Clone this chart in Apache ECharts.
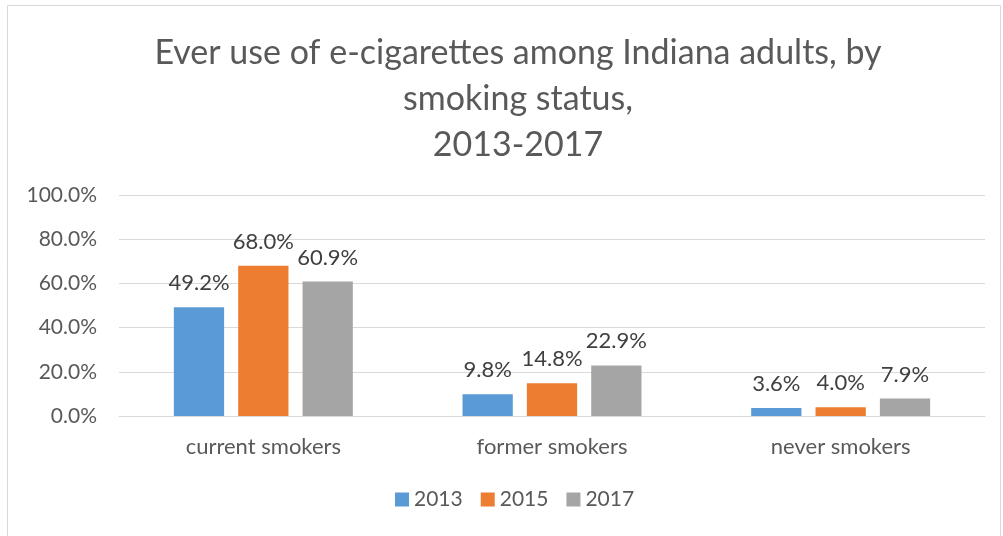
<!DOCTYPE html>
<html>
<head>
<meta charset="utf-8">
<script src="https://cdn.jsdelivr.net/npm/echarts@6/dist/echarts.min.js"></script>
<style>
html, body { margin: 0; padding: 0; background: #fff; }
#main { width: 1003px; height: 536px; }
</style>
</head>
<body>
<div id="main"></div>
<script>
var categories = ["current smokers", "former smokers", "never smokers"];
var years = ["2013", "2015", "2017"];
var values2013 = [49.2, 9.8, 3.6];
var values2015 = [68.0, 14.8, 4.0];
var values2017 = [60.9, 22.9, 7.9];
var colors = ["#5B9BD5", "#ED7D31", "#A5A5A5"];

var chart = echarts.init(document.getElementById("main"));
var font = "Lato";
function barSeries(name, data, color) {
    return {
        name: name, type: "bar", data: data,
        barGap: "28%", barCategoryGap: "38%",
        itemStyle: { color: color },
        label: {
            show: true, position: "top", distance: 13,
            color: "#404040", fontSize: 22, fontFamily: font,
            formatter: function (p) { return p.value.toFixed(1) + "%"; }
        }
    };
}
chart.setOption({
    backgroundColor: "#fff",
    animation: false,
    graphic: [{
        type: "rect", shape: { x: 7.5, y: 5.5, width: 993, height: 540 },
        style: { fill: "none", stroke: "#d9d9d9", lineWidth: 1 }
    }],
    title: {
        text: "Ever use of e-cigarettes among Indiana adults, by\nsmoking status,\n2013-2017",
        left: 513, top: 25, textAlign: "center",
        textStyle: { color: "#595959", fontSize: 34, fontWeight: "normal", fontFamily: font, lineHeight: 46 }
    },
    legend: {
        data: years, bottom: 21, left: 390,
        itemWidth: 14, itemHeight: 14, itemGap: 18, icon: "rect",
        textStyle: { color: "#595959", fontSize: 21, fontFamily: font }
    },
    grid: { left: 119, right: 18, top: 195, bottom: 120 },
    xAxis: {
        type: "category", data: categories,
        axisLine: { lineStyle: { color: "#d9d9d9", width: 1 } },
        axisTick: { show: false },
        axisLabel: { color: "#595959", fontSize: 22, fontFamily: font, margin: 20 }
    },
    yAxis: {
        type: "value", min: 0, max: 100, interval: 20,
        axisLine: { show: false }, axisTick: { show: false },
        splitLine: { lineStyle: { color: "#d9d9d9", width: 1 } },
        axisLabel: {
            color: "#595959", fontSize: 21, fontFamily: font, margin: 22,
            formatter: function (v) { return v.toFixed(1) + "%"; }
        }
    },
    series: [
        barSeries(years[0], values2013, colors[0]),
        barSeries(years[1], values2015, colors[1]),
        barSeries(years[2], values2017, colors[2])
    ]
});
</script>
</body>
</html>
